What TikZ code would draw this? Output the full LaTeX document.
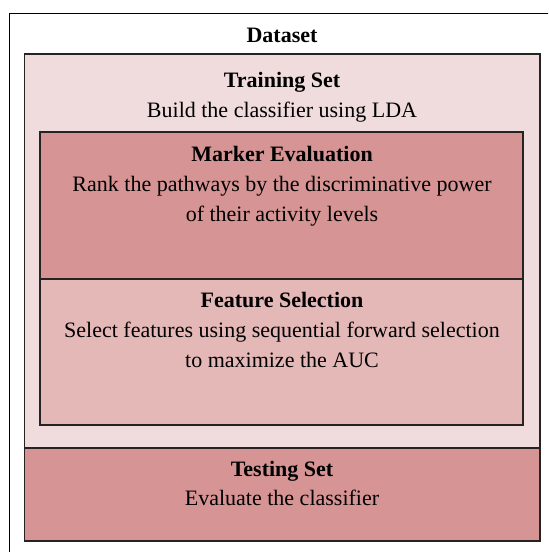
\documentclass[tikz,border=0pt]{standalone}
\usepackage{fontspec}
\setmainfont{Liberation Serif}
\usetikzlibrary{positioning}

\definecolor{trainfill}{RGB}{240,220,220}
\definecolor{markerfill}{RGB}{214,148,148}
\definecolor{featfill}{RGB}{229,184,184}
\definecolor{boxline}{RGB}{40,35,35}

\begin{document}
\begin{tikzpicture}[
    x=0.5pt, y=-0.5pt,
    box/.style={rectangle, draw=boxline, line width=0.6pt, inner sep=0pt},
    trainbox/.style={box, fill=trainfill, minimum width=257.75pt, minimum height=197pt},
    testbox/.style={box, fill=markerfill, minimum width=257.75pt, minimum height=46.5pt},
    markerbox/.style={box, fill=markerfill, minimum width=241.5pt, minimum height=73.5pt},
    featbox/.style={box, fill=featfill, minimum width=241.5pt, minimum height=73pt},
    title/.style={anchor=base, inner sep=0pt, font=\fontsize{11}{15}\selectfont\bfseries},
    desc/.style={anchor=base, inner sep=0pt, align=center, font=\fontsize{11}{15}\selectfont}
]
\useasboundingbox (0,0) rectangle (548,552);
\clip (0,0) rectangle (548,552);

% ========== DATASET ==========
\draw[line width=0.5pt] (9,13) -- (600,13);
\draw[line width=0.5pt] (9,13) -- (9,600);
\node[title] (dataT) at (282,42) {Dataset};

% ========== TRAINING / TESTING ==========
\node[trainbox] (train) at (282.25,251) {};
\node[testbox] (test) at (282.25,494.5) {};

\node[title] (trainT) at (282,87) {Training Set};
\node[desc] (trainD) at (282,117) {Build the classifier using LDA};

% Cajas internas
\node[markerbox] (marker) at (281.5,205.5) {};
\node[featbox] (feat) at (281.5,352) {};

\node[title] (markerT) at (282,161) {Marker Evaluation};
\node[desc] (markerD) at (282,221) {Rank the pathways by the discriminative power\\of their activity levels};

\node[title] (featT) at (282,307) {Feature Selection};
\node[desc] (featD) at (282,367) {Select features using sequential forward selection\\to maximize the AUC};

\node[title] (testT) at (282,476) {Testing Set};
\node[desc] (testD) at (282,505) {Evaluate the classifier};

\end{tikzpicture}
\end{document}
